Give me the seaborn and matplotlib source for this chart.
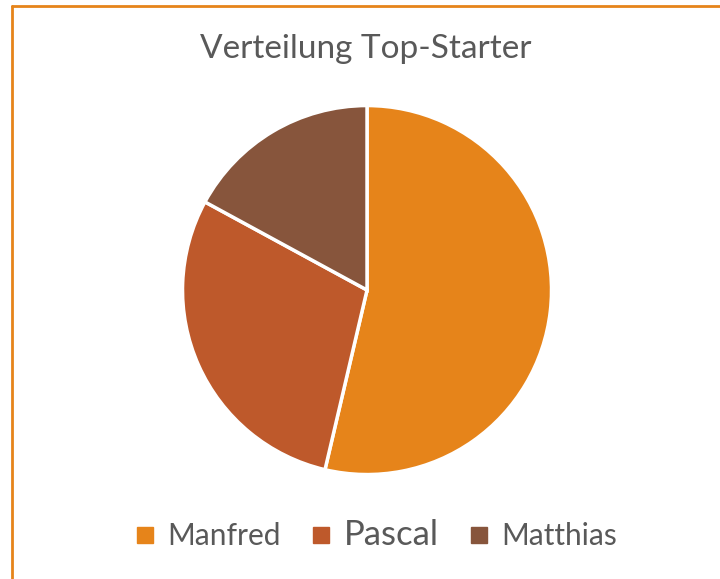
import matplotlib
matplotlib.use("Agg")
import matplotlib.pyplot as plt
import seaborn as sns
from matplotlib.lines import Line2D

# Data
names = ["Manfred", "Pascal", "Matthias"]
counts = [22, 12, 7]
colors = ["#E6841A", "#BE592B", "#87553C"]

sns.set_theme(style="white")
plt.rcParams['font.family'] = ['Lato', 'DejaVu Sans']

fig = plt.figure(figsize=(7.2, 5.79), dpi=100)
ax = fig.add_axes([0.2535, 0.1804, 0.5125, 0.6373])

ax.pie(counts, colors=colors, startangle=90, counterclock=False,
       wedgeprops=dict(edgecolor="white", linewidth=2.5))
ax.set_aspect("equal")
ax.set_xlim(-1, 1)
ax.set_ylim(-1, 1)

fig.text(0.508, 0.915, "Verteilung Top-Starter", ha="center", va="center",
         fontsize=24, color="#595959")

# Legend
handles = [Line2D([], [], marker="s", linestyle="", markersize=11, color=c)
           for c in colors]
leg = fig.legend(handles, names, loc="center", bbox_to_anchor=(0.52, 0.076),
                 ncol=3, frameon=False, handlelength=0.9, handletextpad=0.3,
                 columnspacing=0.9, fontsize=21.5, labelcolor="#595959")
leg.get_texts()[1].set_fontsize(25)

# Orange border (right and bottom edge cut off in the original)
fig.add_artist(Line2D([0.016, 1.0], [0.9905, 0.9905], color="#E6841A",
                      linewidth=2, transform=fig.transFigure))
fig.add_artist(Line2D([0.016, 0.016], [0.0, 0.9905], color="#E6841A",
                      linewidth=2, transform=fig.transFigure))

fig.savefig("out.png", dpi=100)
